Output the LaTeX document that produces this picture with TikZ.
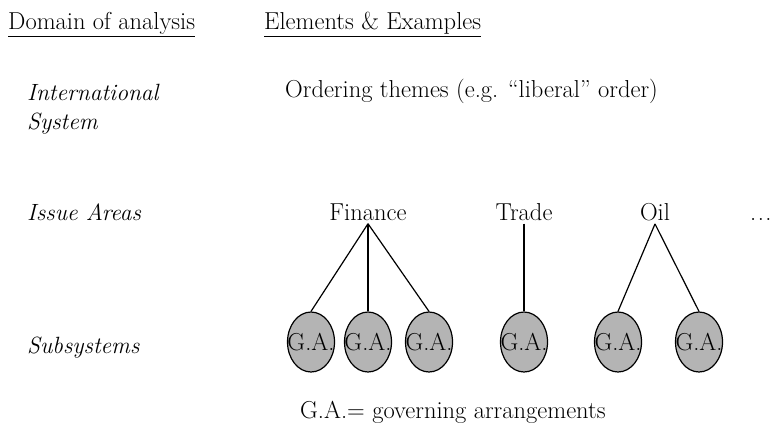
\documentclass[tikz,border=0pt]{standalone}
\usetikzlibrary{shapes.geometric}

\definecolor{gagray}{RGB}{180,180,180}
\newcommand{\bigtext}{\fontsize{24.5}{29}\selectfont}
\newcommand{\domtext}{\fontsize{23.5}{29}\selectfont\itshape}

\tikzset{
	head/.style={anchor=base west, inner sep=0pt},
	dom/.style={anchor=base west, inner sep=0pt, font=\domtext, align=left},
	area/.style={anchor=base},
	ga/.style={ellipse, draw, line width=1.2pt, fill=gagray, minimum width=47pt, minimum height=60pt, inner sep=0pt},
	link/.style={line width=1.2pt}
}
\newcommand{\gatext}{\makebox[0pt]{G.A.}}

\begin{document}
\begin{tikzpicture}[x=1pt, y=-1pt, font=\bigtext]
	\useasboundingbox (0,0) rectangle (775,428);

	% Encabezados
	\node[head] (hdom) at (8,30) {\underline{Domain of analysis}};
	\node[head] (hel) at (264,30) {\underline{Elements \& Examples}};

	% Dominios
	\node[dom] (dsys) at (27,129) {International\\System};
	\node[dom] (dia) at (27,220) {Issue Areas};
	\node[dom] (dsub) at (27,353) {Subsystems};

	% Sistema internacional
	\node[head] (ord) at (285,97) {Ordering themes (e.g. ``liberal'' order)};

	% Areas
	\node[area] (fin) at (368,220) {Finance};
	\node[area] (tra) at (524,220) {Trade};
	\node[area] (oil) at (655,220) {Oil};
	\node[head] (dots) at (750,220) {.\hspace{1.5pt}.\hspace{1.5pt}.};

	% Subsistemas
	\node[ga] (f1) at (311,342) {\gatext};
	\node[ga] (f2) at (368,342) {\gatext};
	\node[ga] (f3) at (429,342) {\gatext};
	\node[ga] (t1) at (524,342) {\gatext};
	\node[ga] (o1) at (618,342) {\gatext};
	\node[ga] (o2) at (699,342) {\gatext};

	% Lineas
	\foreach \g in {f1,f2,f3} \draw[link] (fin.south) -- (\g.north);
	\draw[link] (tra.south) -- (t1.north);
	\foreach \g in {o1,o2} \draw[link] (oil.south) -- (\g.north);

	% Nota
	\node[head] (note) at (300,418) {G.A.= governing arrangements};
\end{tikzpicture}
\end{document}
